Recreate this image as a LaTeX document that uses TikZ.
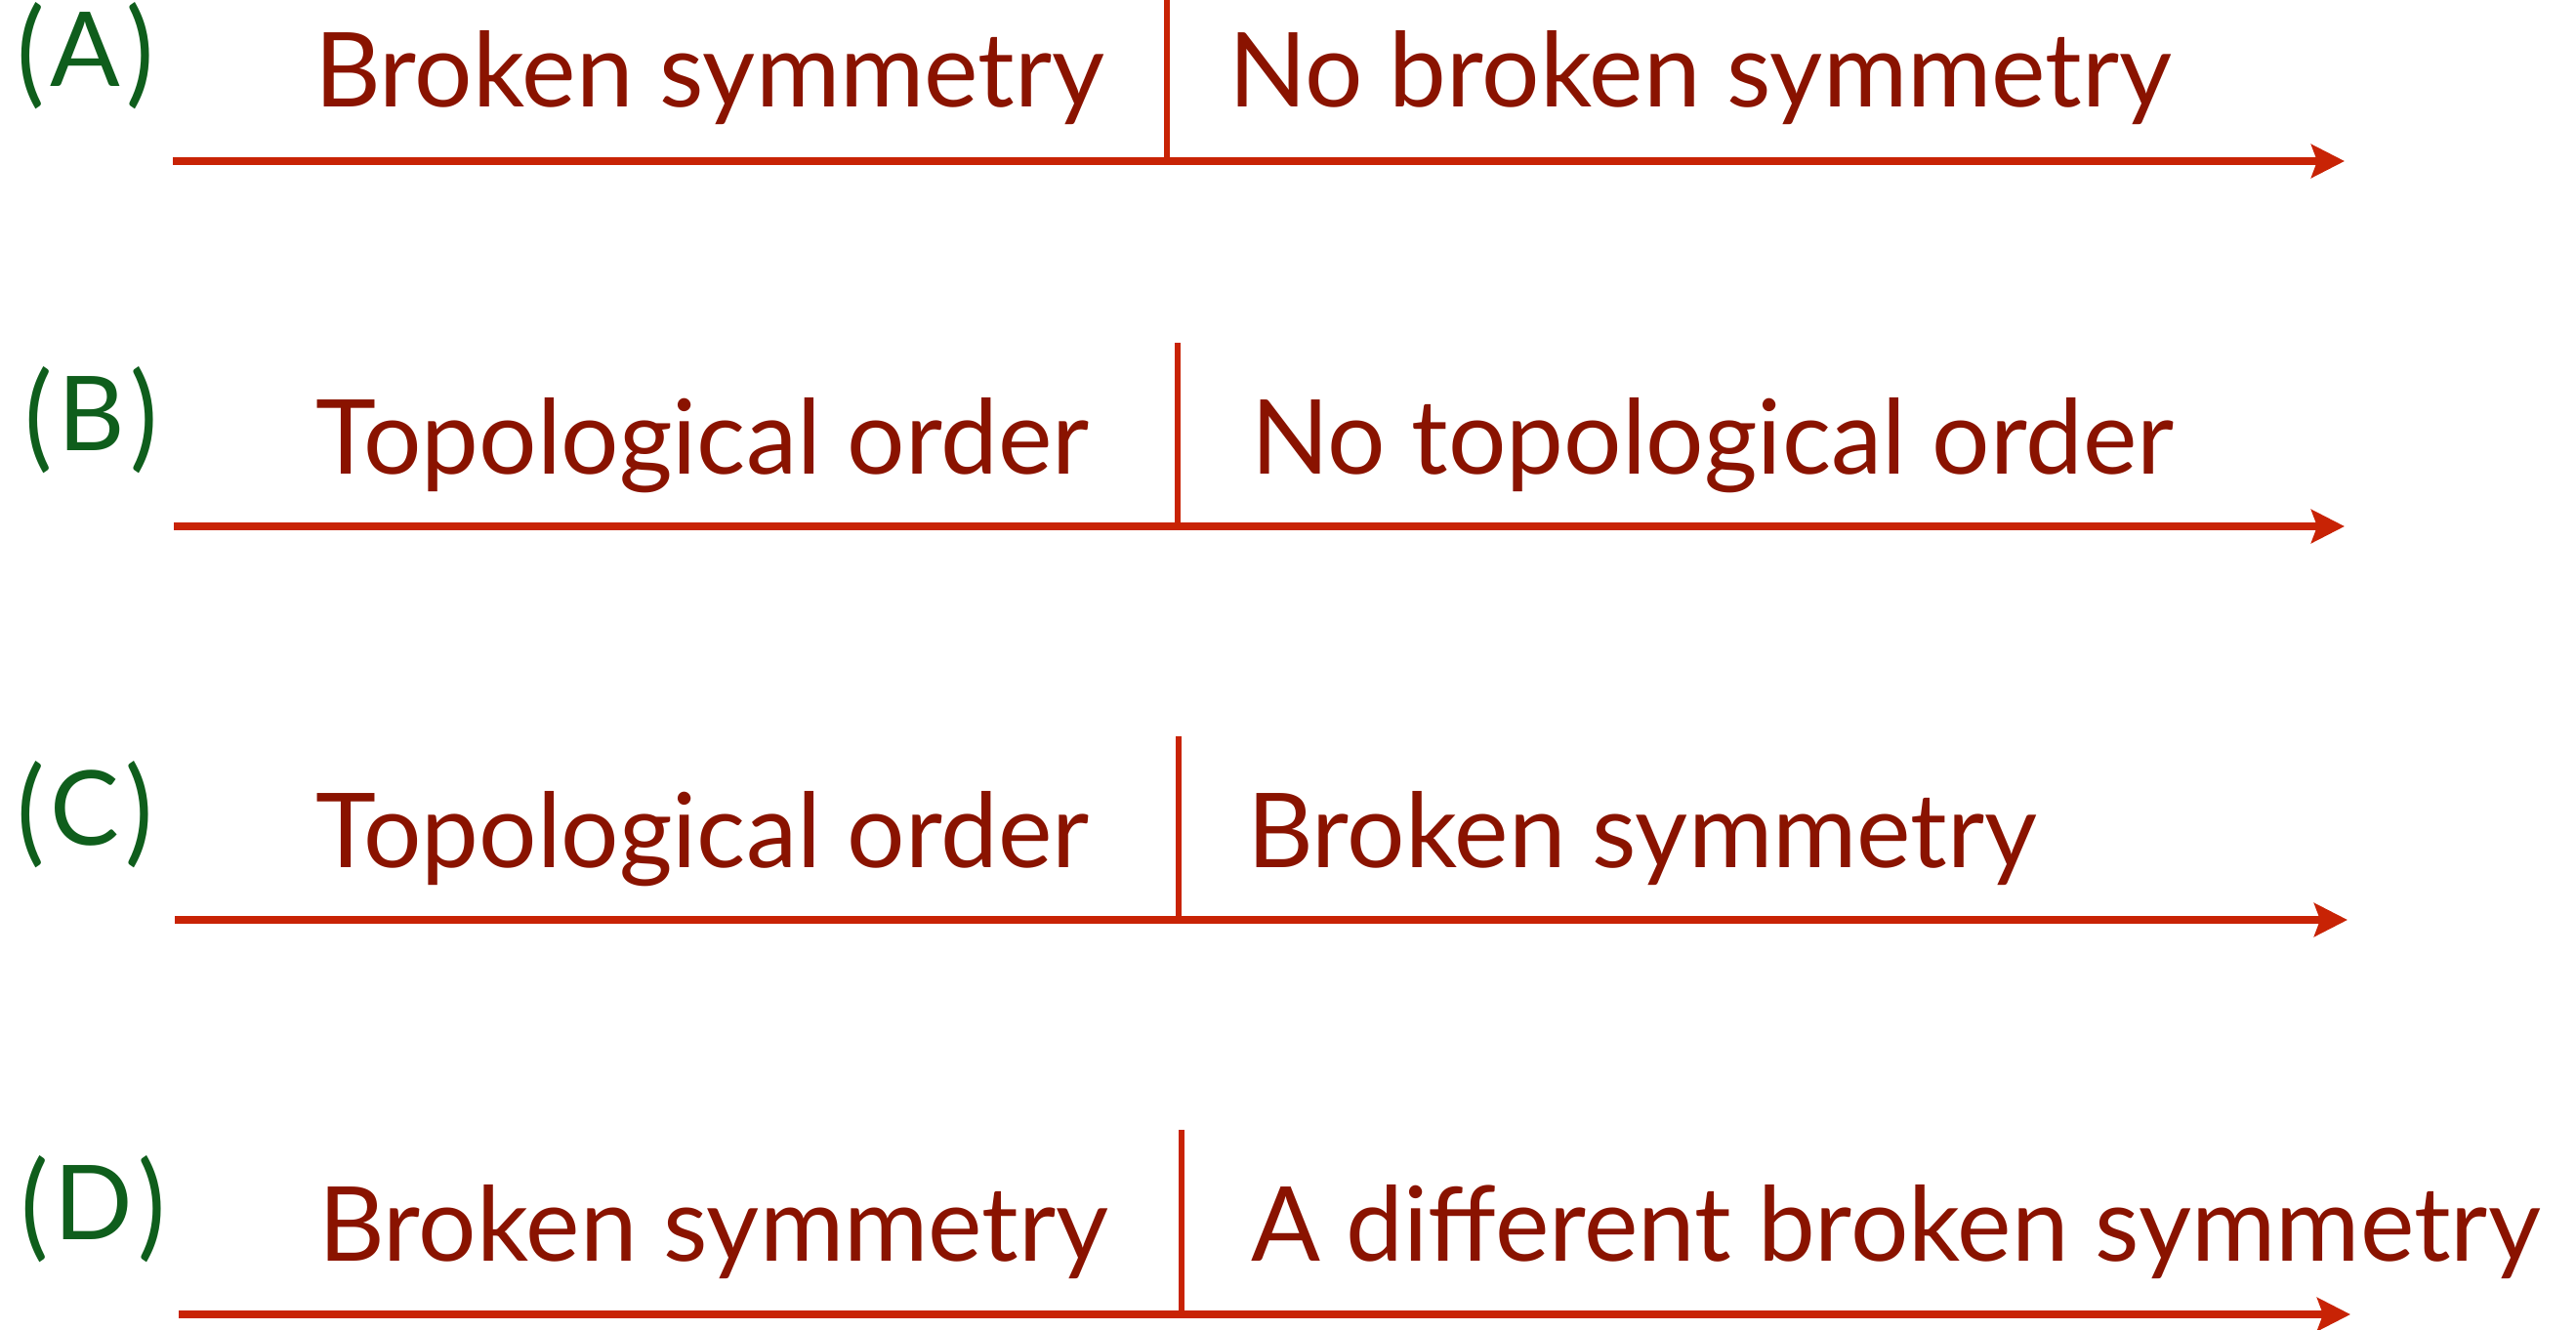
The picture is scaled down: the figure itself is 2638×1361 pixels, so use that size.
\documentclass[tikz,border=0pt]{standalone}
\usepackage{fontspec}
\setmainfont{Lato}
\newfontfamily\phasefont[FakeStretch=0.99]{Lato}
\usetikzlibrary{arrows.meta}
\definecolor{txtred}{HTML}{8A1300}
\definecolor{linered}{HTML}{C82305}
\definecolor{lblgreen}{HTML}{0F5E1C}
\newcommand{\tallparen}[1]{\raisebox{-6pt}{\scalebox{1}[1.12]{#1}}}
\newcommand{\rowtag}[1]{\tallparen{(}\kern6pt#1\kern6pt\tallparen{)}}
\tikzset{
  phase/.style={anchor=base west, inner sep=0pt, outer sep=0pt, text=txtred, font=\phasefont\fontsize{106}{120}\selectfont},
  rowlabel/.style={anchor=base west, inner sep=0pt, outer sep=0pt, text=lblgreen, font=\fontsize{106}{120}\selectfont},
  axis/.style={draw=linered, line width=8pt, -{Stealth[length=34pt, width=34pt, inset=6pt]}},
  divider/.style={draw=linered, line width=6pt},
}
\begin{document}
\begin{tikzpicture}[x=1pt, y=-1pt]
\useasboundingbox (0,0) rectangle (2638,1361);
% Row A
\node[rowlabel] (la) at (17,88) {\rowtag{A}};
\node[phase] (a1) at (322,109) {Broken symmetry};
\node[phase] (a2) at (1258,109) {No broken symmetry};
\coordinate (as) at (177,165);
\coordinate (ae) at (2401,165);
\coordinate (at) at (1195,0);
\coordinate (ab) at (1195,165);
\draw[axis] (as) -- (ae);
\draw[divider] (at) -- (ab);
% Row B
\node[rowlabel] (lb) at (25,461) {\rowtag{B}};
\node[phase] (b1) at (323,485) {Topological order};
\node[phase] (b2) at (1281,485) {No topological order};
\coordinate (bs) at (178,539);
\coordinate (be) at (2401,539);
\coordinate (bt) at (1206,351);
\coordinate (bb) at (1206,539);
\draw[axis] (bs) -- (be);
\draw[divider] (bt) -- (bb);
% Row C
\node[rowlabel] (lc) at (17,865) {\rowtag{C}};
\node[phase] (c1) at (323,888) {Topological order};
\node[phase] (c2) at (1277,888) {Broken symmetry};
\coordinate (cs) at (179,942);
\coordinate (ce) at (2404,942);
\coordinate (ct) at (1207,754);
\coordinate (cb) at (1207,942);
\draw[axis] (cs) -- (ce);
\draw[divider] (ct) -- (cb);
% Row D
\node[rowlabel] (ld) at (21,1269) {\rowtag{D}};
\node[phase] (d1) at (326,1291) {Broken symmetry};
\node[phase] (d2) at (1281,1291) {A different broken symmetry};
\coordinate (ds) at (183,1346);
\coordinate (de) at (2407,1346);
\coordinate (dt) at (1210,1157);
\coordinate (db) at (1210,1346);
\draw[axis] (ds) -- (de);
\draw[divider] (dt) -- (db);
\end{tikzpicture}
\end{document}
